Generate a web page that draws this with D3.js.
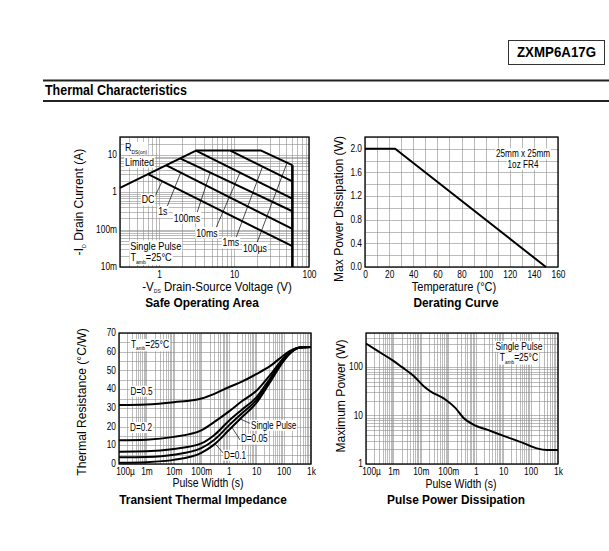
<!DOCTYPE html>
<html>
<head>
<meta charset="utf-8">
<script src="https://cdn.jsdelivr.net/npm/d3@7"></script>
<style>
  body { margin: 0; background: #fff; }
  svg text { font-family: "Liberation Sans", Arial, sans-serif; fill: #000; }
  .grid line { stroke: #8e8e8e; stroke-width: 0.6; shape-rendering: crispEdges; }
  .grid path, .ticks path { display: none; }
  .ticks text { font-size: 10.2px; }
  .curve { fill: none; stroke: #000; stroke-width: 2; stroke-linejoin: round; }
  .leader { stroke: #000; stroke-width: 0.7; }
  .frame { fill: none; stroke: #000; stroke-width: 1.3; }
  .axisTitle { font-size: 12.5px; }
  .panelTitle { font-size: 13.5px; font-weight: bold; }
  .note { font-size: 10px; }
  .hdr { font-size: 14px; font-weight: bold; }
</style>
</head>
<body>
<svg id="chart" width="609" height="551"></svg>
<script>
// ---- header text
const partNumber = 'ZXMP6A17G';
const sectionTitle = 'Thermal Characteristics';

// ---- Safe Operating Area  (V in volts, I in amps)
const soaEnvelope = [[0.3, 1.3], [3.1, 13], [23, 13], [60, 5.3], [60, 0.01]];
const soaDC = [[0.72, 3.0], [60, 0.036]];
const soa1s = [[1.25, 5.2], [60, 0.105]];
const soa100ms = [[1.9, 8.0], [60, 0.31]];
const soa10ms = [[3.1, 13], [60, 0.67]];
const soa1ms = [[8.9, 13], [60, 1.95]];
const soaXTicks = [1, 10, 100];
const soaXLabels = ['1', '10', '100'];
const soaYTicks = [0.01, 0.1, 1, 10];
const soaYLabels = ['10m', '100m', '1', '10'];
// pulse labels: text, centre [V, I], leader start [V, I], curve, leader end V
const soaPulseLabels = [
  {text: 'DC', at: [0.71, 0.62], from: [0.88, 0.79], curve: soaDC, toV: 1.1},
  {text: '1s', at: [1.12, 0.296], from: [1.27, 0.40], curve: soa1s, toV: 1.94},
  {text: '100ms', at: [2.35, 0.204], from: [3.19, 0.278], curve: soa100ms, toV: 4.8},
  {text: '10ms', at: [4.34, 0.081], from: [5.72, 0.11], curve: soa10ms, toV: 12},
  {text: '1ms', at: [9.07, 0.044], from: [10.6, 0.06], curve: soa1ms, toV: 24},
  {text: '100µs', at: [19, 0.032], from: [20.2, 0.044], curve: soaEnvelope, toV: 51}
];

// ---- Derating curve
const derTemp = [0, 25, 150];
const derPower = [2.0, 2.0, 0.0];
const derXTicks = [0, 20, 40, 60, 80, 100, 120, 140, 160];
const derYTicks = [0.0, 0.4, 0.8, 1.2, 1.6, 2.0];

// ---- Transient thermal impedance (pulse width s, Rth °C/W)
const trnTime = [1e-4, 1e-3, 1e-2, 0.1, 0.3, 1, 3, 10, 30, 100, 200, 400, 1000];
const trnD05 = [31.5, 31.8, 33, 35, 37.5, 41, 44, 48, 52, 58, 61, 62.3, 62.5];
const trnD02 = [12.7, 13, 14.5, 18, 22.5, 28, 33.5, 39, 47, 56.5, 60.5, 62.3, 62.5];
const trnD01 = [6.6, 6.8, 8, 11, 15.5, 23, 29, 35.5, 45, 56, 60.3, 62.3, 62.5];
const trnD005 = [3.6, 3.8, 5, 8.5, 13, 20.5, 27, 34, 44, 55.5, 60, 62.3, 62.5];
const trnSingle = [0.7, 1, 2.2, 6, 10.5, 18, 25, 32.5, 43, 55, 60, 62.3, 62.5];
const timeTicks = [1e-4, 1e-3, 1e-2, 1e-1, 1, 10, 100, 1000];
const timeLabels = ['100µ', '1m', '10m', '100m', '1', '10', '100', '1k'];
const trnYTicks = [0, 10, 20, 30, 40, 50, 60, 70];
// labels: text, centre [t, R], optional leader [[t, R], [t, R]]
const trnLabels = [
  {text: 'D=0.5', at: [6.7e-4, 39]},
  {text: 'D=0.2', at: [6.4e-4, 19.6]},
  {text: 'Single Pulse', at: [43.6, 20.8], leader: [[6.0, 21.7], [2.6, 24.1]]},
  {text: 'D=0.05', at: [8.5, 13.4], leader: [[2.6, 12.8], [1.3, 19.7]]},
  {text: 'D=0.1', at: [1.7, 4.8], leader: [[0.64, 5.7], [0.32, 10.8]]}
];

// ---- Pulse power dissipation (pulse width s, power W)
const pulTime = [1e-4, 3.3e-4, 1e-3, 2e-3, 5.5e-3, 1.27e-2, 2.2e-2, 7.8e-2, 0.18, 0.36, 0.85, 2.6, 10.4, 55, 170, 400, 1000];
const pulPower = [304, 198, 133, 100, 65, 40, 31.6, 21.3, 14.3, 8.9, 6.4, 5.1, 3.8, 2.7, 2.1, 1.95, 1.95];
const pulYTicks = [1, 10, 100];
const pulYLabels = ['1', '10', '100'];

const svg = d3.select('#chart');
svg.append('rect').attr('width', 609).attr('height', 551).attr('fill', '#fff');

// horizontally condense text about its anchor point (the original uses a narrow face)
function squeeze(sel, k) {
  sel.each(function () {
    const t = d3.select(this);
    const x = +t.attr('x') || 0, y = +t.attr('y') || 0;
    t.attr('transform', `translate(${x},${y}) scale(${k},1) translate(${-x},${-y})`);
  });
  return sel;
}

// header
svg.append('rect')
  .attr('x', 508.5).attr('y', 40.5).attr('width', 96).attr('height', 24)
  .attr('fill', 'none').attr('stroke', '#333').attr('stroke-width', 1);
svg.append('text').attr('class', 'hdr')
  .attr('x', 556.5).attr('y', 57.5).attr('text-anchor', 'middle')
  .text(partNumber).call(squeeze, 0.95);
svg.append('line').attr('x1', 43).attr('x2', 609).attr('y1', 80.5).attr('y2', 80.5)
  .attr('stroke', '#222').attr('stroke-width', 2);
svg.append('text').attr('class', 'hdr')
  .attr('x', 45).attr('y', 95.5)
  .text(sectionTitle).call(squeeze, 0.89);
svg.append('line').attr('x1', 43).attr('x2', 609).attr('y1', 101).attr('y2', 101)
  .attr('stroke', '#222').attr('stroke-width', 2);

function logGrid(lo, hi) {
  const out = [];
  for (let e = Math.floor(Math.log10(lo)); e <= Math.ceil(Math.log10(hi)); e++) {
    for (let m = 1; m < 10; m++) {
      const v = m * Math.pow(10, e);
      if (v >= lo * 0.999 && v <= hi * 1.001) out.push(v);
    }
  }
  return out;
}

// appends text made of [string, isSub] parts, optionally with a white box behind
function richText(g, px, py, parts, cls, anchor, bg, k) {
  const t = g.append('text')
    .attr('class', cls)
    .attr('x', px).attr('y', py).attr('dy', '0.35em')
    .attr('text-anchor', anchor || 'middle');
  let shifted = false;
  parts.forEach(p => {
    const s = t.append('tspan').text(p[0]);
    if (p[1] && !shifted) { s.attr('dy', 2.5).style('font-size', '5.5px'); shifted = true; }
    else if (!p[1] && shifted) { s.attr('dy', -2.5); shifted = false; }
  });
  if (k) squeeze(t, k);
  if (bg) {
    const b = t.node().getBBox();
    g.insert('rect', () => t.node())
      .attr('x', b.x - 1).attr('y', b.y).attr('width', b.width + 2).attr('height', b.height)
      .attr('transform', t.attr('transform'))
      .attr('fill', '#fff');
  }
  return t;
}

function drawPanel(box, x, y, cfg) {
  const g = svg.append('g');
  const w = box.right - box.left, h = box.bottom - box.top;

  g.append('g').attr('class', 'grid')
    .attr('transform', `translate(0,${box.bottom})`)
    .call(d3.axisBottom(x).tickValues(cfg.xGrid).tickSize(-h).tickFormat(''));
  g.append('g').attr('class', 'grid')
    .attr('transform', `translate(${box.left},0)`)
    .call(d3.axisLeft(y).tickValues(cfg.yGrid).tickSize(-w).tickFormat(''));

  const plot = g.append('g');

  g.append('g').attr('class', 'ticks')
    .attr('transform', `translate(0,${box.bottom})`)
    .call(d3.axisBottom(x).tickValues(cfg.xTicks).tickSize(0).tickPadding(3.5)
      .tickFormat((d, i) => cfg.xLabels[i]))
    .selectAll('text')
    .attr('x', (d, i) => (i === 0 && cfg.firstXShift) ? cfg.firstXShift : 0)
    .call(squeeze, 0.82);
  g.append('g').attr('class', 'ticks')
    .attr('transform', `translate(${box.left},0)`)
    .call(d3.axisLeft(y).tickValues(cfg.yTicks).tickSize(0).tickPadding(3)
      .tickFormat((d, i) => cfg.yLabels[i]))
    .selectAll('text').attr('dy', '0.26em').call(squeeze, 0.82);

  richText(g, cfg.xTitle[0], cfg.xTitle[1], cfg.xTitleParts, 'axisTitle', 'middle', false, cfg.xTitleK);
  richText(g, 0, 0, cfg.yTitleParts, 'axisTitle')
    .attr('transform', `translate(${cfg.yTitle[0]},${cfg.yTitle[1]}) rotate(-90) scale(0.97,1)`);
  g.append('text').attr('class', 'panelTitle')
    .attr('x', cfg.title[0]).attr('y', cfg.title[1]).attr('dy', '0.35em')
    .attr('text-anchor', 'middle').text(cfg.titleText)
    .call(squeeze, 0.88);

  return {plot, frame: () => plot.append('rect').attr('class', 'frame')
    .attr('x', box.left).attr('y', box.top).attr('width', w).attr('height', h)};
}

// log-log interpolation on a polyline of [V, I]
function onCurve(pts, v) {
  for (let i = 0; i < pts.length - 1; i++) {
    const a = pts[i], b = pts[i + 1];
    if (a[0] !== b[0] && v >= a[0] && v <= b[0]) {
      const f = Math.log(v / a[0]) / Math.log(b[0] / a[0]);
      return Math.exp(Math.log(a[1]) + f * Math.log(b[1] / a[1]));
    }
  }
  return pts[pts.length - 1][1];
}

// ===== Safe Operating Area
{
  const box = {left: 120, right: 309, top: 137, bottom: 267};
  const x = d3.scaleLog().domain([0.3, 100]).range([box.left, box.right]);
  const y = d3.scaleLog().domain([0.01, 30]).range([box.bottom, box.top]);
  const p = drawPanel(box, x, y, {
    xGrid: logGrid(0.3, 100), yGrid: logGrid(0.01, 30),
    xTicks: soaXTicks, xLabels: soaXLabels, yTicks: soaYTicks, yLabels: soaYLabels,
    xTitle: [217, 286.5], xTitleK: 0.92, xTitleParts: [['-V'], ['DS', true], [' Drain-Source Voltage (V)']],
    yTitle: [79, 202], yTitleParts: [['-I'], ['D', true], [' Drain Current (A)']],
    title: [202, 302.5], titleText: 'Safe Operating Area'
  });
  const line = d3.line().x(d => x(d[0])).y(d => y(d[1]));
  [soaDC, soa1s, soa100ms, soa10ms, soa1ms].forEach(c =>
    p.plot.append('path').attr('class', 'curve').attr('d', line(c)));
  p.plot.append('path').attr('class', 'curve').attr('d', line(soaEnvelope.slice(0, 4)));
  p.plot.append('path').attr('class', 'curve').style('stroke-width', 2.6)
    .attr('d', line(soaEnvelope.slice(3)));

  soaPulseLabels.forEach(l => {
    p.plot.append('line').attr('class', 'leader')
      .attr('x1', x(l.from[0])).attr('y1', y(l.from[1]))
      .attr('x2', x(l.toV)).attr('y2', y(onCurve(l.curve, l.toV)));
  });
  soaPulseLabels.forEach(l =>
    richText(p.plot, x(l.at[0]), y(l.at[1]), [[l.text]], 'note', 'middle', true, 0.88));

  richText(p.plot, x(0.35), y(15.3), [['R'], ['DS(on)', true]], 'note', 'start', true, 0.9);
  richText(p.plot, x(0.35), y(6.4), [['Limited']], 'note', 'start', true, 0.9);
  richText(p.plot, x(0.9), y(0.036), [['Single Pulse']], 'note', 'middle', true, 0.92);
  richText(p.plot, x(0.78), y(0.0175), [['T'], ['amb', true], ['=25°C']], 'note', 'middle', true, 0.92);
  p.frame();
}

// ===== Derating curve
{
  const box = {left: 365, right: 558, top: 137, bottom: 267};
  const x = d3.scaleLinear().domain([0, 160]).range([box.left, box.right]);
  const y = d3.scaleLinear().domain([0, 2.2]).range([box.bottom, box.top]);
  const p = drawPanel(box, x, y, {
    xGrid: d3.range(0, 161, 10), yGrid: d3.range(0, 2.21, 0.2),
    xTicks: derXTicks, xLabels: derXTicks.map(String),
    yTicks: derYTicks, yLabels: derYTicks.map(d => d.toFixed(1)),
    xTitle: [454, 287], xTitleK: 0.88, xTitleParts: [['Temperature (°C)']],
    yTitle: [339, 209], yTitleParts: [['Max Power Dissipation (W)']],
    title: [456, 302], titleText: 'Derating Curve'
  });
  const line = d3.line().x((d, i) => x(derTemp[i])).y(d => y(d));
  p.plot.append('path').attr('class', 'curve').attr('d', line(derPower));
  richText(p.plot, x(131), y(1.92), [['25mm x 25mm']], 'note', 'middle', true, 0.82);
  richText(p.plot, x(131), y(1.74), [['1oz FR4']], 'note', 'middle', true, 0.82);
  p.frame();
}

// ===== Transient thermal impedance
{
  const box = {left: 119, right: 311, top: 333, bottom: 464};
  const x = d3.scaleLog().domain([1e-4, 1000]).range([box.left, box.right]);
  const y = d3.scaleLinear().domain([0, 70]).range([box.bottom, box.top]);
  const p = drawPanel(box, x, y, {
    xGrid: logGrid(1e-4, 1000), yGrid: d3.range(0, 71, 5),
    xTicks: timeTicks, xLabels: timeLabels, firstXShift: 6,
    yTicks: trnYTicks, yLabels: trnYTicks.map(String),
    xTitle: [208, 483], xTitleK: 0.84, xTitleParts: [['Pulse Width (s)']],
    yTitle: [82, 402], yTitleParts: [['Thermal Resistance (°C/W)']],
    title: [203, 499.5], titleText: 'Transient Thermal Impedance'
  });
  const line = d3.line().x((d, i) => x(trnTime[i])).y(d => y(d)).curve(d3.curveMonotoneX);
  [trnD05, trnD02, trnD01, trnD005, trnSingle].forEach(s =>
    p.plot.append('path').attr('class', 'curve').attr('d', line(s)));
  trnLabels.filter(l => l.leader).forEach(l =>
    p.plot.append('line').attr('class', 'leader')
      .attr('x1', x(l.leader[0][0])).attr('y1', y(l.leader[0][1]))
      .attr('x2', x(l.leader[1][0])).attr('y2', y(l.leader[1][1])));
  trnLabels.forEach(l =>
    richText(p.plot, x(l.at[0]), y(l.at[1]), [[l.text]], 'note', 'middle', true, 0.82));
  richText(p.plot, x(1.35e-3), y(64), [['T'], ['amb', true], ['=25°C']], 'note', 'middle', true, 0.85);
  p.frame();
}

// ===== Pulse power dissipation
{
  const box = {left: 366, right: 558, top: 333, bottom: 464};
  const x = d3.scaleLog().domain([1e-4, 1000]).range([box.left, box.right]);
  const y = d3.scaleLog().domain([1, 500]).range([box.bottom, box.top]);
  const p = drawPanel(box, x, y, {
    xGrid: logGrid(1e-4, 1000), yGrid: logGrid(1, 500),
    xTicks: timeTicks, xLabels: timeLabels, firstXShift: 5,
    yTicks: pulYTicks, yLabels: pulYLabels,
    xTitle: [461, 484], xTitleK: 0.84, xTitleParts: [['Pulse Width (s)']],
    yTitle: [341, 396], yTitleParts: [['Maximum Power (W)']],
    title: [456, 499.5], titleText: 'Pulse Power Dissipation'
  });
  const line = d3.line().x((d, i) => x(pulTime[i])).y(d => y(d)).curve(d3.curveMonotoneX);
  p.plot.append('path').attr('class', 'curve').attr('d', line(pulPower));
  richText(p.plot, x(37.8), y(268), [['Single Pulse']], 'note', 'middle', true, 0.85);
  richText(p.plot, x(37.8), y(156), [['T'], ['amb', true], ['=25°C']], 'note', 'middle', true, 0.85);
  p.frame();
}
</script>
</body>
</html>
